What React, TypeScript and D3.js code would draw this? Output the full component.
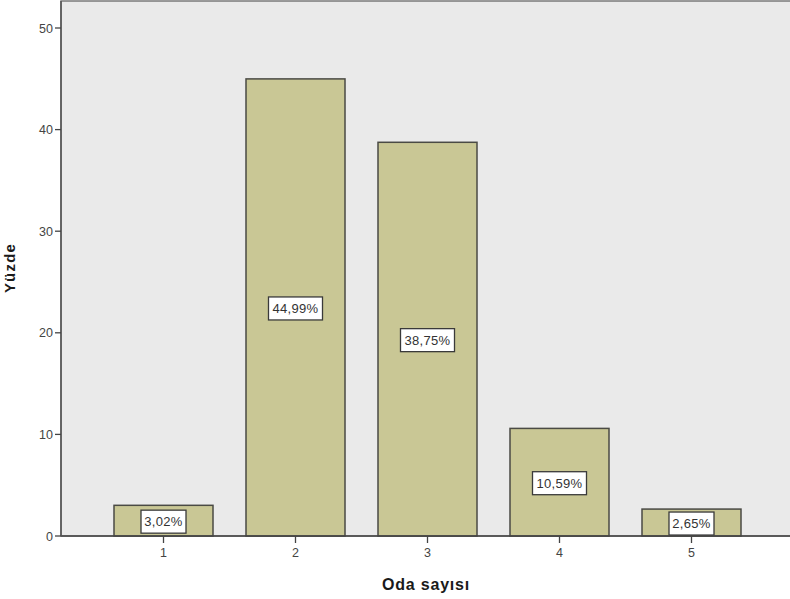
import React from "react";
import * as d3 from "d3";

const categories = ["1", "2", "3", "4", "5"];
const values = [3.02, 44.99, 38.75, 10.59, 2.65];
const labels = ["3,02%", "44,99%", "38,75%", "10,59%", "2,65%"];
const yTicks = [0, 10, 20, 30, 40, 50];

export default function App() {
  const W = 790, H = 599;
  const left = 61, top = 1, bottom = 536;
  const x = d3.scaleBand<string>().domain(categories).range([97.5, 757.5]).paddingInner(0.25).paddingOuter(0.125);
  const y = d3.scaleLinear().domain([0, 50]).range([bottom, bottom - 508]);
  const font = "Arial, 'Liberation Sans', sans-serif";
  return (
    <svg width={W} height={H} style={{ position: "absolute", left: 0, top: 0 }} fontFamily={font}>
      <rect x={left} y={top} width={W - left + 2} height={bottom - top} fill="#eaeaea" stroke="#7a7a7a" strokeWidth={1.5} />
      {categories.map((c, i) => {
        const x0 = x(c)!;
        const bw = x.bandwidth();
        const yt = y(values[i]);
        const cy = (yt + bottom) / 2 + 1;
        const lw = labels[i].length * 9;
        return (
          <g key={c}>
            <rect x={x0} y={yt} width={bw} height={bottom - yt} fill="#c9c795" stroke="#4a4a44" strokeWidth={1.5} />
            <rect x={x0 + bw / 2 - lw / 2} y={cy - 11.5} width={lw} height={23} fill="#ffffff" stroke="#3a3a3a" strokeWidth={1.3} />
            <text x={x0 + bw / 2} y={cy + 4.5} textAnchor="middle" fontSize={13} letterSpacing={0.3} fill="#333">{labels[i]}</text>
            <line x1={x0 + bw / 2} x2={x0 + bw / 2} y1={bottom} y2={bottom + 7} stroke="#444" strokeWidth={1.3} />
            <text x={x0 + bw / 2} y={bottom + 21} textAnchor="middle" fontSize={12.5} fill="#444">{c}</text>
          </g>
        );
      })}
      <line x1={left} x2={W} y1={bottom} y2={bottom} stroke="#444" strokeWidth={1.5} />
      <line x1={left} x2={left} y1={top} y2={bottom} stroke="#555" strokeWidth={1.5} />
      {yTicks.map((t) => (
        <g key={t}>
          <line x1={left - 6} x2={left} y1={y(t)} y2={y(t)} stroke="#444" strokeWidth={1.3} />
          <text x={left - 8} y={y(t) + 4.5} textAnchor="end" fontSize={12.5} fill="#444">{t}</text>
        </g>
      ))}
      <text transform={`translate(15,${268}) rotate(-90)`} textAnchor="middle" fontSize={15} letterSpacing={1.2} fontWeight="bold" fill="#1a1a1a">Yüzde</text>
      <text x={426} y={590} textAnchor="middle" fontSize={16} letterSpacing={0.8} fontWeight="bold" fill="#1a1a1a">Oda sayısı</text>
    </svg>
  );
}
